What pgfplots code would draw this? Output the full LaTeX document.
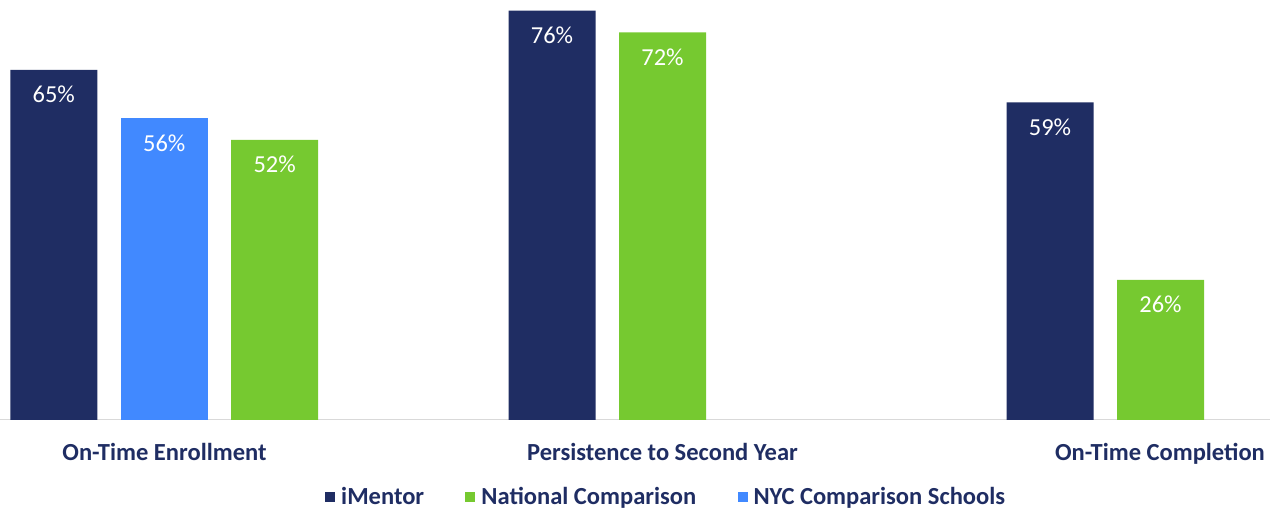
\documentclass[border=0pt]{standalone}
\usepackage{pgfplots}
\pgfplotsset{compat=1.18}
\usepackage{fontspec}
\setmainfont{Carlito}
\definecolor{navy}{HTML}{1F2D63}
\definecolor{nycblue}{HTML}{4189FF}
\definecolor{natgreen}{HTML}{76C930}
\definecolor{basegray}{HTML}{D9D9D9}
\begin{document}
\begin{tikzpicture}
\begin{axis}[
  at={(0,0)}, anchor=origin,
  x=0.75pt, y=4.039pt,
  xmin=0, xmax=1270, ymin=0, ymax=78,
  axis y line=none,
  axis x line*=bottom,
  x axis line style={draw=basegray, line width=0.75pt, -},
  xtick={164.5,662.5,1160},
  xticklabels={On-Time Enrollment,Persistence to Second Year,On-Time Completion},
  major tick length=0pt,
  xticklabel style={font=\fontsize{18.4pt}{20pt}\selectfont\bfseries, text=navy, anchor=base, yshift=-30.5pt, inner sep=0pt},
  clip=false,
  /pgf/number format/assume math mode=true,
  bar width=87,
  nodes near coords={\pgfmathprintnumber{\pgfplotspointmeta}\%},
  every node near coord/.append style={font=\fontsize{18.3pt}{20pt}\selectfont, text=white, anchor=north, inner sep=0pt, yshift=-12pt},
  legend columns=-1,
  legend style={at={(axis cs:666.5,-14.3)}, anchor=center, draw=none, fill=none,
    font=\fontsize{18.4pt}{20pt}\selectfont\bfseries, text=navy,
    /tikz/every odd column/.append style={column sep=2.5pt},
    /tikz/every even column/.append style={column sep=29pt}},
  legend image code/.code={\fill[#1] (0pt,-3.75pt) rectangle (7.5pt,3.75pt);},
]
\addplot[ybar, bar shift=0pt, fill=navy, draw=none] coordinates {(53.8,65) (552,76) (1050,59)};
\addlegendentry{iMentor}
\addplot[ybar, bar shift=0pt, fill=natgreen, draw=none] coordinates {(274.7,52) (662.5,72) (1160.5,26)};
\addlegendentry{National Comparison}
\addplot[ybar, bar shift=0pt, fill=nycblue, draw=none] coordinates {(164.3,56)};
\addlegendentry{NYC Comparison Schools}
\end{axis}
\pgfresetboundingbox
\useasboundingbox (0,-67.5pt) rectangle (959.25pt,315pt);
\end{tikzpicture}
\end{document}
